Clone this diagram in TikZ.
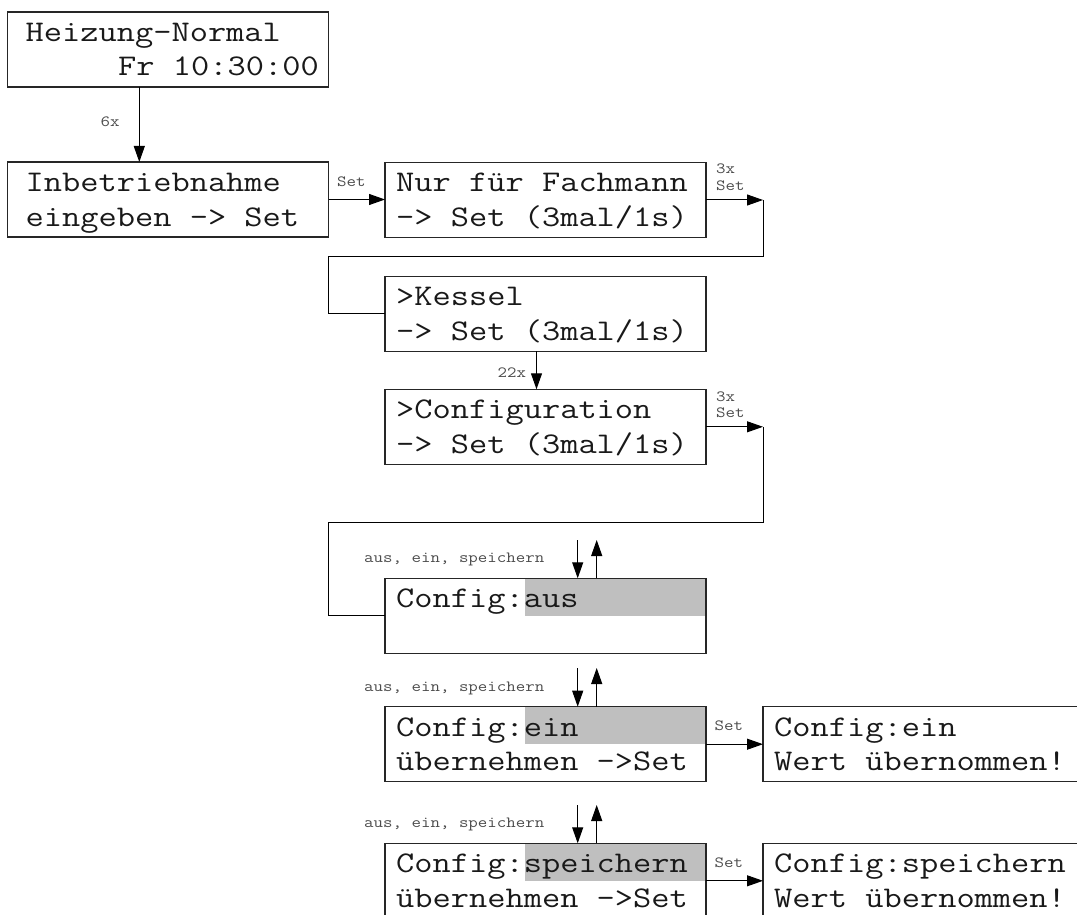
\documentclass[tikz,border=0pt]{standalone}
\usepackage{fontspec}
\newfontfamily\lcdfont[FakeStretch=1.18]{Latin Modern Mono}
\usetikzlibrary{arrows.meta}
\tikzset{
  lcd/.style={draw=black!85, line width=1.2pt, inner sep=0pt, outer sep=0pt,
    minimum width=321pt, minimum height=75pt, anchor=north west},
  lcdtxt/.style={inner sep=0pt, anchor=base west,
    font=\lcdfont\fontsize{30}{34}\selectfont, text=black!90},
  hl/.style={fill=black!25, inner sep=0pt, outer sep=0pt, anchor=north west,
    minimum width=181pt, minimum height=37.7pt},
  lbl/.style={inner sep=0pt, anchor=base west,
    font=\lcdfont\fontsize{15.6}{17}\selectfont, text=black!70},
  conn/.style={line width=1pt, draw=black},
  arr/.style={conn, -{Triangle[length=16pt,width=11pt]}},
}
\begin{document}
\begin{tikzpicture}[x=1pt,y=-1pt]
\useasboundingbox (0,0) rectangle (1077,915);
\clip (0,0) rectangle (1077,915);

% highlights
\node[hl] (h6) at (525,578.3) {};
\node[hl] (h7) at (525,706.7) {};
\node[hl] (h8) at (525,843.3) {};

% boxes
\node[lcd] (b1) at (7.5,12) {};
\node[lcd] (b2) at (7.5,162) {};
\node[lcd] (b3) at (385,162.5) {};
\node[lcd] (b4) at (385,276.3) {};
\node[lcd] (b5) at (385,389.3) {};
\node[lcd] (b6) at (385,578.3) {};
\node[lcd] (b7) at (385,706.7) {};
\node[lcd] (b8) at (385,843.3) {};
\node[lcd, minimum width=340pt] (r7) at (763,706.7) {};
\node[lcd, minimum width=340pt] (r8) at (763,843.3) {};

% texts
\node[lcdtxt] (t1a) at (25.5,41.3) {Heizung-Normal};
\node[lcdtxt] (t1b) at (118,75.5) {Fr 10:30:00};
\node[lcdtxt] (t2a) at (25.5,191.5) {Inbetriebnahme};
\node[lcdtxt] (t2b) at (25.5,226) {eingeben -> Set};
\node[lcdtxt] (t3a) at (396,192) {Nur für Fachmann};
\node[lcdtxt] (t3b) at (396,226.5) {-> Set (3mal/1s)};
\node[lcdtxt] (t4a) at (396,305.8) {>Kessel};
\node[lcdtxt] (t4b) at (396,340.3) {-> Set (3mal/1s)};
\node[lcdtxt] (t5a) at (396,418.8) {>Configuration};
\node[lcdtxt] (t5b) at (396,453.3) {-> Set (3mal/1s)};
\node[lcdtxt] (t6a) at (396,607.8) {Config:aus};
\node[lcdtxt] (t7a) at (396,736.2) {Config:ein};
\node[lcdtxt] (t7b) at (396,770.7) {übernehmen ->Set};
\node[lcdtxt] (t8a) at (396,872.8) {Config:speichern};
\node[lcdtxt] (t8b) at (396,907.3) {übernehmen ->Set};
\node[lcdtxt] (r7a) at (774,736.2) {Config:ein};
\node[lcdtxt] (r7b) at (774,770.7) {Wert übernommen!};
\node[lcdtxt] (r8a) at (774,872.8) {Config:speichern};
\node[lcdtxt] (r8b) at (774,907.3) {Wert übernommen!};

% labels
\node[lbl] (l6x) at (100.5,126.7) {6x};
\node[lbl] (lset1) at (337,186) {Set};
\node[lbl] (l3xa) at (716,174) {3x};
\node[lbl] (lseta) at (716,190) {Set};
\node[lbl] (l22x) at (497.5,377) {22x};
\node[lbl] (l3xb) at (716,401.5) {3x};
\node[lbl] (lsetb) at (716,417.3) {Set};
\node[lbl] (lsel6) at (364,562) {aus, ein, speichern};
\node[lbl] (lsel7) at (364,691) {aus, ein, speichern};
\node[lbl] (lsel8) at (364,827) {aus, ein, speichern};
\node[lbl] (lset7) at (714.5,730.5) {Set};
\node[lbl] (lset8) at (714.5,867) {Set};

% connectors
\coordinate (x6) at (139.3,0);
\draw[arr] (b1.south -| x6) -- (b2.north -| x6);
\draw[arr] (b2.east) -- (b2.east -| b3.west);

\coordinate (k1a) at (763,256.7);
\coordinate (k1b) at (328.3,256.7);
\draw[arr] (b3.east) -- (b3.east -| k1a);
\draw[conn] (b3.east -| k1a) -- (k1a) -- (k1b) |- (b4.west);

\coordinate (x22) at (536.5,0);
\draw[arr] (b4.south -| x22) -- (b5.north -| x22);

\coordinate (k2a) at (763,522);
\coordinate (k2b) at (328.3,522);
\draw[arr] (b5.east) -- (b5.east -| k2a);
\draw[conn] (b5.east -| k2a) -- (k2a) -- (k2b) |- (b6.west);

\coordinate (d6) at (577.7,540);
\coordinate (u6) at (596.7,540);
\draw[arr] (d6) -- (d6 |- b6.north);
\draw[arr] (u6 |- b6.north) -- (u6);

\coordinate (d7) at (577.7,668);
\coordinate (u7) at (596.7,668);
\draw[arr] (d7) -- (d7 |- b7.north);
\draw[arr] (u7 |- b7.north) -- (u7);

\coordinate (d8) at (577.7,805);
\coordinate (u8) at (596.7,805);
\draw[arr] (d8) -- (d8 |- b8.north);
\draw[arr] (u8 |- b8.north) -- (u8);

\draw[arr] (b7.east) -- (r7.west);
\draw[arr] (b8.east) -- (r8.west);
\end{tikzpicture}
\end{document}
